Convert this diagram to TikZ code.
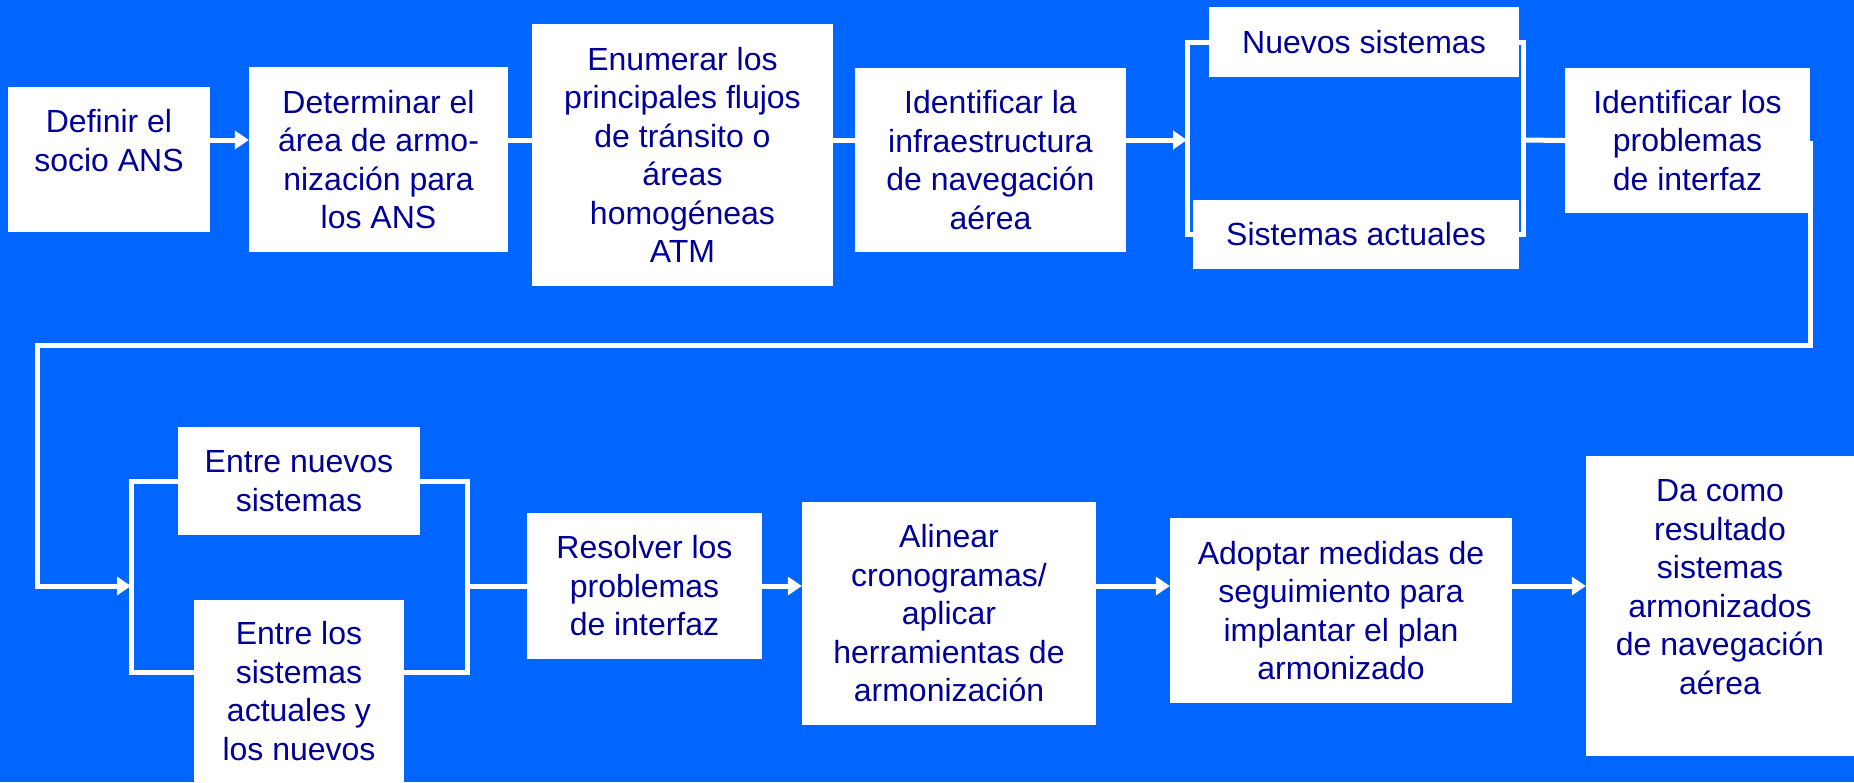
\documentclass[tikz,border=0pt]{standalone}
\usepackage{fontspec}
\setmainfont{Liberation Sans}
\usepackage{tikz}
\usetikzlibrary{positioning,arrows.meta}
\definecolor{fondo}{RGB}{0,102,255}
\definecolor{tinta}{RGB}{0,0,153}
\tikzstyle{caja} = [rectangle, fill=white, text=tinta, align=center, inner sep=0pt, font=\fontsize{32pt}{38.5pt}\selectfont]
\tikzstyle{linea} = [line width=5pt, draw=white]
\tikzstyle{connect} = [linea, -{Triangle[length=14pt,width=18pt]}]

\begin{document}
\begin{tikzpicture}[x=1pt,y=-1pt]
			\fill[fondo] (0,0) rectangle (1854,782);

			\node (defin) [caja, minimum width=202pt, minimum height=145pt] at (109,159.5) {Definir el\\socio ANS\\ \mbox{}};
			\node (determ) [caja, minimum width=259pt, minimum height=185pt] at (378.5,159.5) {Determinar el\\área de armo-\\nización para\\los ANS};
			\node (enum) [caja, minimum width=301pt, minimum height=262pt] at (682.5,155) {Enumerar los\\principales flujos\\de tránsito o\\áreas\\homogéneas\\ATM};
			\node (infra) [caja, minimum width=271pt, minimum height=184pt] at (990.5,160) {Identificar la\\infraestructura\\de navegación\\aérea};
			\node (nuevos) [caja, minimum width=310pt, minimum height=70pt] at (1364,42) {Nuevos sistemas};
			\node (actual) [caja, minimum width=326pt, minimum height=69pt] at (1356,234.5) {Sistemas actuales};
			\node (probl) [caja, minimum width=245pt, minimum height=145pt] at (1687.5,140.5) {Identificar los\\problemas\\de interfaz};

			\node (entrenuevos) [caja, minimum width=242pt, minimum height=108pt] at (299,481) {Entre nuevos\\sistemas};
			\node (entreact) [caja, minimum width=210pt, minimum height=182pt] at (299,691) {Entre los\\sistemas\\actuales y\\los nuevos};
			\node (resol) [caja, minimum width=235pt, minimum height=146pt] at (644.5,586) {Resolver los\\problemas\\de interfaz};
			\node (alin) [caja, minimum width=294pt, minimum height=223pt] at (949,613.5) {Alinear\\cronogramas/\\aplicar\\herramientas de\\armonización};
			\node (adopt) [caja, minimum width=342pt, minimum height=185pt] at (1341,610.5) {Adoptar medidas de\\seguimiento para\\implantar el plan\\armonizado};
			\node (result) [caja, minimum width=268pt, minimum height=300pt] at (1720,606) {Da como\\resultado\\sistemas\\armonizados\\de navegación\\aérea\\ \mbox{}};

			\coordinate (fila1) at (0,140);
			\coordinate (izq1) at (1187,140);
			\coordinate (der1) at (1523,140);
			\coordinate (codo) at (37,345);
			\coordinate (izq2) at (131,586);
			\coordinate (der2) at (467,586);
			\coordinate (pie2) at (0,672);

			\draw [connect] (defin.east |- fila1) -- (determ.west |- fila1);
			\draw [linea] (determ.east |- fila1) -- (enum.west |- fila1);
			\draw [linea] (enum.east |- fila1) -- (infra.west |- fila1);
			\draw [connect] (infra.east |- fila1) -- (izq1);
			\draw [linea] (nuevos.west) -| (izq1 |- actual) -- (actual.west);
			\draw [linea] (nuevos.east) -| (der1 |- actual) -- (actual.east);
			\draw [linea] (der1) -- (probl.west);
			\draw [connect] (probl.east) |- (codo) |- (izq2);
			\draw [linea] (entrenuevos.west) -| (izq2 |- pie2) -- (entreact.west |- pie2);
			\draw [linea] (entrenuevos.east) -| (der2 |- pie2) -- (entreact.east |- pie2);
			\draw [linea] (der2) -- (resol.west);
			\draw [connect] (resol.east) -- (alin.west |- resol);
			\draw [connect] (alin.east |- resol) -- (adopt.west |- resol);
			\draw [connect] (adopt.east |- resol) -- (result.west |- resol);

\end{tikzpicture}
\end{document}
